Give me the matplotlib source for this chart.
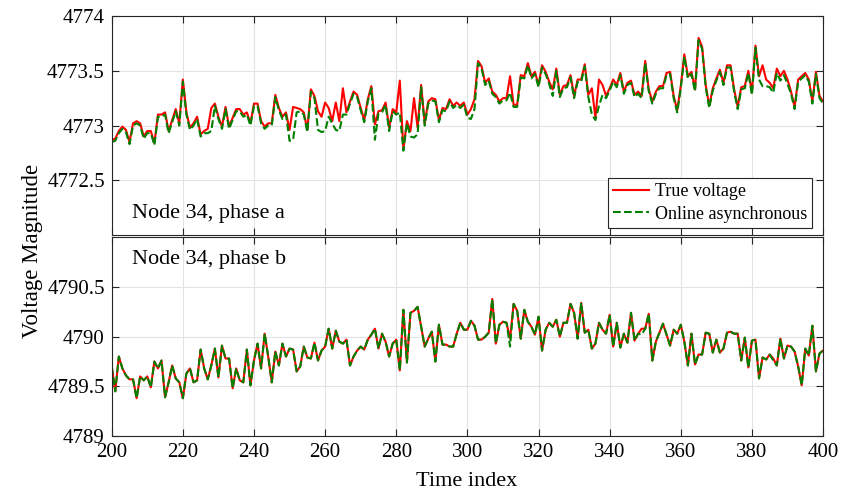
import matplotlib
matplotlib.use('Agg')
import matplotlib.pyplot as plt
from matplotlib.ticker import FormatStrFormatter
import numpy as np

plt.rcParams['font.family'] = ['Liberation Serif', 'DejaVu Serif']

# time index 200..400
t = np.arange(200, 401)

# Node 34, phase a
true_a = [
    4772.87, 4772.88, 4772.95, 4772.99, 4772.96, 4772.85, 4773.02, 4773.04, 4773.02, 4772.90,
    4772.95, 4772.95, 4772.84, 4773.10, 4773.10, 4773.12, 4772.95, 4773.05, 4773.15, 4773.02,
    4773.42, 4773.12, 4772.98, 4773.02, 4773.08, 4772.92, 4772.95, 4772.97, 4773.16, 4773.20,
    4773.08, 4772.99, 4773.17, 4772.99, 4773.07, 4773.15, 4773.15, 4773.10, 4773.12, 4773.02,
    4773.20, 4773.20, 4773.04, 4772.99, 4773.02, 4773.02, 4773.28, 4773.16, 4773.08, 4773.12,
    4772.96, 4773.17, 4773.16, 4773.15, 4773.12, 4772.96, 4773.33, 4773.27, 4773.13, 4773.08,
    4773.21, 4773.16, 4773.04, 4773.21, 4773.04, 4773.34, 4773.12, 4773.22, 4773.31, 4773.28,
    4773.16, 4773.05, 4773.24, 4773.36, 4773.01, 4773.13, 4773.14, 4773.21, 4772.98, 4773.15,
    4773.12, 4773.41, 4772.78, 4773.04, 4772.95, 4773.25, 4772.98, 4773.37, 4773.02, 4773.22,
    4773.25, 4773.24, 4773.05, 4773.16, 4773.15, 4773.24, 4773.18, 4773.21, 4773.18, 4773.21,
    4773.10, 4773.15, 4773.24, 4773.59, 4773.54, 4773.39, 4773.43, 4773.31, 4773.28, 4773.22,
    4773.25, 4773.25, 4773.45, 4773.19, 4773.19, 4773.46, 4773.45, 4773.57, 4773.45, 4773.49,
    4773.37, 4773.55, 4773.49, 4773.40, 4773.33, 4773.52, 4773.28, 4773.36, 4773.37, 4773.46,
    4773.27, 4773.42, 4773.42, 4773.56, 4773.28, 4773.34, 4773.07, 4773.42, 4773.37, 4773.27,
    4773.34, 4773.42, 4773.37, 4773.48, 4773.31, 4773.39, 4773.41, 4773.28, 4773.31, 4773.27,
    4773.59, 4773.33, 4773.22, 4773.31, 4773.36, 4773.36, 4773.48, 4773.49, 4773.27, 4773.14,
    4773.36, 4773.65, 4773.45, 4773.49, 4773.33, 4773.80, 4773.72, 4773.37, 4773.18, 4773.34,
    4773.43, 4773.51, 4773.39, 4773.55, 4773.55, 4773.33, 4773.17, 4773.35, 4773.36, 4773.50,
    4773.30, 4773.73, 4773.45, 4773.55, 4773.42, 4773.39, 4773.34, 4773.52, 4773.45, 4773.50,
    4773.42, 4773.31, 4773.17, 4773.42, 4773.45, 4773.48, 4773.42, 4773.22, 4773.49, 4773.27,
    4773.22,
]
online_a = [
    4772.85, 4772.86, 4772.93, 4772.97, 4772.94, 4772.83, 4773.00, 4773.02, 4773.00, 4772.88,
    4772.93, 4772.93, 4772.82, 4773.08, 4773.08, 4773.10, 4772.93, 4773.03, 4773.13, 4773.00,
    4773.40, 4773.10, 4772.96, 4773.00, 4773.06, 4772.90, 4772.93, 4772.93, 4772.95, 4773.18,
    4773.06, 4772.97, 4773.15, 4772.97, 4773.05, 4773.13, 4773.13, 4773.08, 4773.10, 4773.00,
    4773.18, 4773.18, 4773.02, 4772.97, 4773.00, 4773.00, 4773.26, 4773.14, 4773.06, 4773.10,
    4772.86, 4772.87, 4773.12, 4773.13, 4773.10, 4772.94, 4773.31, 4773.25, 4772.96, 4772.94,
    4772.95, 4773.08, 4773.02, 4772.96, 4772.95, 4773.10, 4773.10, 4773.20, 4773.29, 4773.26,
    4773.14, 4773.03, 4773.22, 4773.34, 4772.87, 4773.11, 4773.12, 4773.19, 4772.95, 4773.13,
    4773.10, 4773.12, 4772.77, 4773.02, 4772.90, 4772.89, 4772.92, 4773.35, 4773.00, 4773.20,
    4773.23, 4773.22, 4773.03, 4773.14, 4773.13, 4773.22, 4773.16, 4773.19, 4773.16, 4773.19,
    4773.07, 4773.06, 4773.15, 4773.57, 4773.52, 4773.37, 4773.41, 4773.29, 4773.26, 4773.20,
    4773.23, 4773.23, 4773.30, 4773.17, 4773.17, 4773.44, 4773.43, 4773.55, 4773.43, 4773.47,
    4773.35, 4773.53, 4773.47, 4773.38, 4773.27, 4773.50, 4773.26, 4773.34, 4773.35, 4773.44,
    4773.25, 4773.40, 4773.40, 4773.54, 4773.26, 4773.10, 4773.05, 4773.18, 4773.28, 4773.25,
    4773.32, 4773.40, 4773.35, 4773.46, 4773.29, 4773.37, 4773.39, 4773.26, 4773.29, 4773.25,
    4773.57, 4773.31, 4773.20, 4773.29, 4773.34, 4773.34, 4773.46, 4773.47, 4773.25, 4773.12,
    4773.34, 4773.63, 4773.43, 4773.47, 4773.31, 4773.78, 4773.70, 4773.35, 4773.16, 4773.32,
    4773.41, 4773.49, 4773.37, 4773.53, 4773.53, 4773.31, 4773.15, 4773.33, 4773.34, 4773.48,
    4773.28, 4773.71, 4773.42, 4773.36, 4773.36, 4773.35, 4773.30, 4773.48, 4773.41, 4773.46,
    4773.38, 4773.29, 4773.15, 4773.40, 4773.43, 4773.46, 4773.40, 4773.20, 4773.47, 4773.25,
    4773.20,
]

# Node 34, phase b
true_b = [
    4789.70, 4789.45, 4789.80, 4789.68, 4789.61, 4789.57, 4789.57, 4789.38, 4789.60, 4789.56,
    4789.60, 4789.49, 4789.75, 4789.68, 4789.76, 4789.39, 4789.54, 4789.71, 4789.58, 4789.54,
    4789.38, 4789.63, 4789.68, 4789.54, 4789.56, 4789.87, 4789.68, 4789.57, 4789.71, 4789.88,
    4789.59, 4789.91, 4789.78, 4789.78, 4789.48, 4789.68, 4789.56, 4789.54, 4789.87, 4789.51,
    4789.76, 4789.93, 4789.68, 4790.03, 4789.80, 4789.54, 4789.85, 4789.71, 4789.93, 4789.80,
    4789.88, 4789.87, 4789.65, 4789.70, 4789.90, 4789.79, 4789.78, 4789.94, 4789.76, 4789.86,
    4789.90, 4790.08, 4789.88, 4790.06, 4789.95, 4789.93, 4789.97, 4789.71, 4789.80, 4789.86,
    4789.90, 4789.87, 4789.97, 4790.02, 4790.08, 4789.88, 4790.03, 4789.95, 4789.80, 4789.93,
    4789.97, 4789.66, 4790.27, 4789.74, 4790.24, 4790.26, 4790.30, 4790.10, 4789.90, 4789.98,
    4790.05, 4789.75, 4790.12, 4789.92, 4789.92, 4789.90, 4789.90, 4790.03, 4790.14, 4790.07,
    4790.07, 4790.16, 4790.11, 4789.97, 4789.97, 4790.00, 4790.04, 4790.38, 4789.93, 4790.12,
    4790.15, 4790.14, 4789.98, 4790.33, 4790.26, 4789.98, 4790.27, 4790.15, 4790.10, 4790.02,
    4790.20, 4789.86, 4790.07, 4790.14, 4790.10, 4790.17, 4790.00, 4790.14, 4790.14, 4790.33,
    4790.24, 4789.98, 4790.34, 4790.04, 4790.07, 4789.88, 4789.93, 4790.14, 4790.07, 4790.03,
    4790.22, 4789.90, 4790.14, 4789.89, 4790.03, 4789.94, 4790.24, 4789.96, 4790.03, 4790.08,
    4790.08, 4790.23, 4789.76, 4789.95, 4790.04, 4790.13, 4790.02, 4789.91, 4790.07, 4790.03,
    4790.12, 4789.95, 4789.71, 4790.03, 4789.72, 4789.82, 4789.82, 4790.04, 4790.03, 4789.84,
    4789.97, 4789.84, 4789.88, 4790.04, 4790.05, 4790.03, 4790.03, 4789.76, 4789.99, 4789.69,
    4789.96, 4789.97, 4789.58, 4789.79, 4789.77, 4789.82, 4789.78, 4789.71, 4789.98, 4789.78,
    4789.91, 4789.90, 4789.85, 4789.70, 4789.51, 4789.88, 4789.81, 4790.11, 4789.65, 4789.83,
    4789.86,
]
online_b = [
    4789.70, 4789.45, 4789.80, 4789.68, 4789.61, 4789.57, 4789.57, 4789.38, 4789.60, 4789.56,
    4789.60, 4789.49, 4789.75, 4789.68, 4789.76, 4789.39, 4789.54, 4789.71, 4789.58, 4789.54,
    4789.38, 4789.63, 4789.68, 4789.54, 4789.56, 4789.87, 4789.68, 4789.57, 4789.71, 4789.88,
    4789.59, 4789.91, 4789.78, 4789.78, 4789.48, 4789.68, 4789.56, 4789.54, 4789.87, 4789.51,
    4789.76, 4789.93, 4789.68, 4790.03, 4789.80, 4789.54, 4789.85, 4789.71, 4789.93, 4789.80,
    4789.88, 4789.87, 4789.65, 4789.70, 4789.90, 4789.79, 4789.78, 4789.94, 4789.76, 4789.86,
    4789.90, 4790.08, 4789.88, 4790.06, 4789.95, 4789.93, 4789.97, 4789.71, 4789.80, 4789.86,
    4789.90, 4789.87, 4789.97, 4790.02, 4790.08, 4789.88, 4790.03, 4789.95, 4789.80, 4789.93,
    4789.97, 4789.66, 4790.27, 4789.74, 4790.24, 4790.26, 4790.30, 4790.10, 4789.90, 4789.98,
    4790.05, 4789.75, 4790.12, 4789.92, 4789.92, 4789.90, 4789.90, 4790.03, 4790.14, 4790.07,
    4790.07, 4790.16, 4790.11, 4789.97, 4789.97, 4790.00, 4790.04, 4790.38, 4789.93, 4790.12,
    4790.15, 4790.14, 4789.90, 4790.33, 4790.26, 4789.98, 4790.27, 4790.15, 4790.10, 4790.02,
    4790.20, 4789.86, 4790.07, 4790.14, 4790.10, 4790.17, 4790.00, 4790.14, 4790.14, 4790.33,
    4790.24, 4789.98, 4790.34, 4790.04, 4790.07, 4789.88, 4789.93, 4790.14, 4790.07, 4790.03,
    4790.22, 4789.90, 4790.14, 4789.89, 4790.03, 4789.94, 4790.24, 4789.96, 4790.03, 4790.02,
    4790.08, 4790.23, 4789.76, 4789.95, 4790.04, 4790.13, 4790.02, 4789.91, 4790.07, 4790.03,
    4790.12, 4789.95, 4789.71, 4790.03, 4789.72, 4789.82, 4789.82, 4790.04, 4790.03, 4789.84,
    4789.97, 4789.84, 4789.88, 4790.04, 4790.05, 4790.03, 4790.03, 4789.76, 4789.99, 4789.69,
    4789.96, 4789.97, 4789.58, 4789.79, 4789.77, 4789.82, 4789.76, 4789.71, 4789.98, 4789.78,
    4789.91, 4789.90, 4789.85, 4789.70, 4789.51, 4789.88, 4789.81, 4790.11, 4789.65, 4789.83,
    4789.86,
]

red = '#ff0000'
green = '#008000'
edge = '#262626'

fig = plt.figure(figsize=(8.64, 4.9), dpi=100)
ax1 = fig.add_axes([0.1293, 0.5204, 0.8233, 0.4469])
ax2 = fig.add_axes([0.1293, 0.1102, 0.8233, 0.4055])


def style(ax, ylo, yticks):
    ax.set_xlim(200, 400)
    ax.set_ylim(ylo, ylo + 2)
    ax.set_xticks(np.arange(200, 401, 20))
    ax.set_yticks(yticks)
    ax.yaxis.set_major_formatter(FormatStrFormatter('%g'))
    ax.grid(True, color='#e3e3e3', linewidth=0.8)
    ax.set_axisbelow(True)
    ax.tick_params(direction='in', top=True, right=True, length=5,
                   width=0.8, color=edge, labelsize=15, pad=5)
    for s in ax.spines.values():
        s.set_color(edge)
        s.set_linewidth(0.8)


ax1.plot(t, true_a, color=red, lw=1.5, label='True voltage')
ax1.plot(t, online_a, color=green, lw=1.5, ls='--', label='Online asynchronous')
style(ax1, 4772, [4772.5, 4773, 4773.5, 4774])
ax1.tick_params(labelbottom=False)
ax1.text(0.0285, 0.10, 'Node 34, phase a', transform=ax1.transAxes,
         fontsize=16, va='center', ha='left')
leg = ax1.legend(loc='lower right', bbox_to_anchor=(0.985, 0.032),
                 borderaxespad=0, fontsize=13, fancybox=False,
                 edgecolor=edge, framealpha=1, handlelength=2.0,
                 borderpad=0.3, labelspacing=0.3, handletextpad=0.3)
leg.get_frame().set_linewidth(0.8)

ax2.plot(t, true_b, color=red, lw=1.5)
ax2.plot(t, online_b, color=green, lw=1.5, ls='--')
style(ax2, 4789, [4789, 4789.5, 4790, 4790.5])
ax2.text(0.0285, 0.886, 'Node 34, phase b', transform=ax2.transAxes,
         fontsize=16, va='center', ha='left')

fig.text(0.038, 0.488, 'Voltage Magnitude', rotation=90,
         fontsize=16.5, va='center', ha='center')
fig.text(0.5405, 0.018, 'Time index', fontsize=16, va='center', ha='center')

fig.savefig('out.png', dpi=100)
